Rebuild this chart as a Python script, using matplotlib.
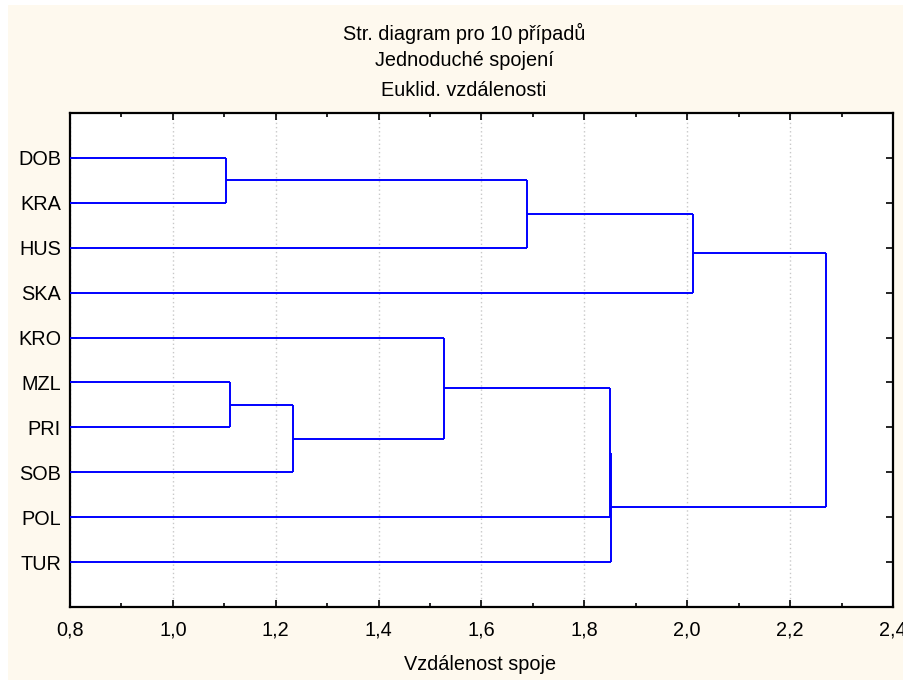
import matplotlib
matplotlib.use("Agg")
import matplotlib.pyplot as plt
from matplotlib.patches import Rectangle
from matplotlib.ticker import MultipleLocator, FixedLocator

# Leaf labels, top to bottom
labels = ["DOB", "KRA", "HUS", "SKA", "KRO", "MZL", "PRI", "SOB", "POL", "TUR"]

# Linkage steps (scipy style: ids >= 10 are clusters made by earlier steps)
merge_left = [0, 10, 11, 5, 13, 4, 15, 16, 12]
merge_right = [1, 2, 3, 6, 7, 14, 8, 9, 17]
merge_dist = [1.103, 1.688, 2.012, 1.112, 1.234, 1.527, 1.849, 1.851, 2.269]

title_lines = ["Str. diagram pro 10 případů", "Jednoduché spojení", "Euklid. vzdálenosti"]
x_label = "Vzdálenost spoje"

W, H = 904, 680
BG = "#FEF9EE"
LINE = "#0000FF"
FS = 14.3

plt.rcParams["font.family"] = ["Liberation Sans", "DejaVu Sans"]
plt.rcParams["font.size"] = FS

fig = plt.figure(figsize=(W / 100, H / 100), dpi=100, facecolor="white")
fig.patches.append(Rectangle((8 / W, 0), 1 - 8 / W, 1 - 5 / H, transform=fig.transFigure,
                             facecolor=BG, edgecolor="none", zorder=-10))

ax = fig.add_axes([70 / W, 1 - 607 / H, (893 - 70) / W, (607 - 113) / H])
ax.set_facecolor("white")

# positions of leaves and clusters: id -> (y, height)
nodes = {i: (i + 1, 0.0) for i in range(len(labels))}
for k, (a, b, d) in enumerate(zip(merge_left, merge_right, merge_dist)):
    ya, ha = nodes[a]
    yb, hb = nodes[b]
    ax.plot([ha, d], [ya, ya], color=LINE, lw=1.4, solid_capstyle="butt", zorder=3)
    ax.plot([hb, d], [yb, yb], color=LINE, lw=1.4, solid_capstyle="butt", zorder=3)
    ax.plot([d, d], [ya, yb], color=LINE, lw=1.4, solid_capstyle="butt", zorder=3)
    nodes[len(labels) + k] = ((ya + yb) / 2, d)

ax.set_xlim(0.8, 2.4)
ax.set_ylim(len(labels) + 1, 0)

ax.xaxis.set_major_locator(MultipleLocator(0.2))
ax.xaxis.set_minor_locator(MultipleLocator(0.1))
ax.set_xticklabels([f"{v:.1f}".replace(".", ",") for v in ax.get_xticks()])
ax.yaxis.set_major_locator(FixedLocator(range(1, len(labels) + 1)))
ax.set_yticklabels(labels)

ax.tick_params(axis="both", which="both", direction="in", top=True, right=True,
               color="black", width=1.2)
ax.tick_params(axis="both", which="major", length=5)
ax.tick_params(axis="x", which="minor", length=3)
ax.tick_params(axis="x", which="major", pad=9.5)
ax.tick_params(axis="y", which="major", pad=6.5)

ax.grid(axis="x", which="major", color="#C8C8C8", linestyle=(0, (1, 2)), lw=1, zorder=0)
for s in ax.spines.values():
    s.set_linewidth(1.6)
    s.set_color("black")

for txt, yp in zip(title_lines, [33, 61, 90]):
    fig.text(464 / W, 1 - yp / H, txt, ha="center", va="center", fontsize=FS)
fig.text(480 / W, 1 - 664 / H, x_label, ha="center", va="center", fontsize=FS)

fig.savefig("out.png", dpi=100, facecolor=fig.get_facecolor())
